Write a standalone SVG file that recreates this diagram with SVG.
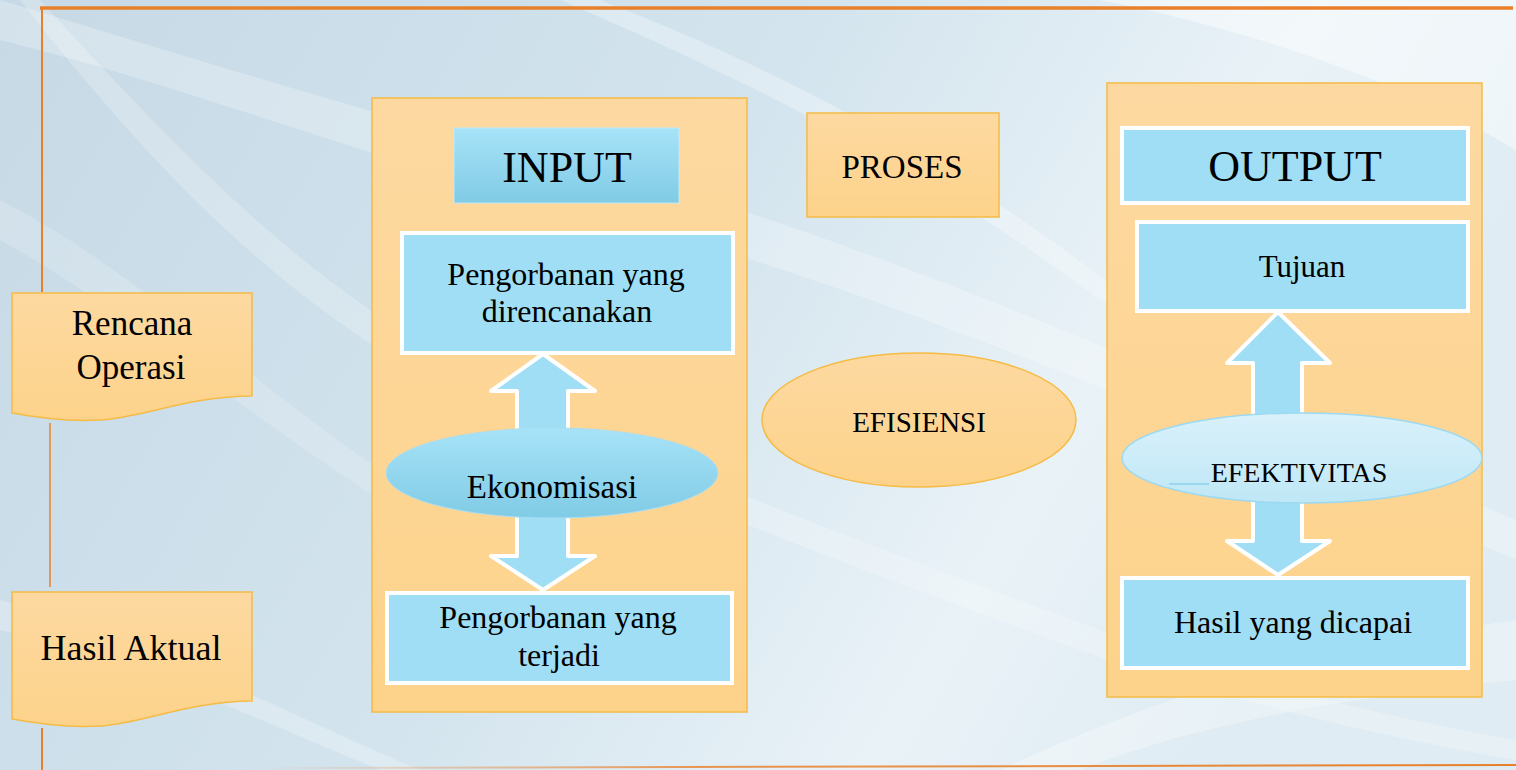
<svg xmlns="http://www.w3.org/2000/svg" width="1516" height="770" viewBox="0 0 1516 770">
<defs>
<linearGradient id="bg" x1="0" y1="0" x2="1" y2="0.3">
<stop offset="0" stop-color="#c6d9e5"/>
<stop offset="0.5" stop-color="#d3e4ee"/>
<stop offset="0.8" stop-color="#e9f2f7"/>
<stop offset="1" stop-color="#dfecf3"/>
</linearGradient>
<linearGradient id="org" x1="0" y1="0" x2="0" y2="1">
<stop offset="0" stop-color="#fdd9a1"/>
<stop offset="1" stop-color="#fdd38b"/>
</linearGradient>
<linearGradient id="blu" x1="0" y1="0" x2="0" y2="1">
<stop offset="0" stop-color="#a7e3f8"/>
<stop offset="1" stop-color="#80cbe5"/>
</linearGradient>
<linearGradient id="lblu" x1="0" y1="0" x2="0" y2="1">
<stop offset="0" stop-color="#d9f1fb"/>
<stop offset="1" stop-color="#bfe7f6"/>
</linearGradient>
<linearGradient id="botline" x1="0" y1="0" x2="1" y2="0">
<stop offset="0" stop-color="#e8802a" stop-opacity="0"/>
<stop offset="0.35" stop-color="#e8802a" stop-opacity="0.8"/>
<stop offset="1" stop-color="#e8802a"/>
</linearGradient>
<linearGradient id="rline" x1="0" y1="0" x2="0" y2="1">
<stop offset="0" stop-color="#e8802a"/>
<stop offset="1" stop-color="#e8802a" stop-opacity="0.2"/>
</linearGradient>
<style>
.orgbox{fill:url(#org);stroke:#f5bb45;stroke-width:1.5}
.bbox{fill:#9fdef5;stroke:#ffffff;stroke-width:4}
.arrow{fill:#9fdef5;stroke:#ffffff;stroke-width:4;stroke-linejoin:round}
.frame{stroke:#e8802a;fill:none}
.t{font-family:"Liberation Serif","Times New Roman",serif;fill:#000;text-anchor:middle}
.sw{fill:#ffffff}
</style>
</defs>

<g id="background">
<rect x="0" y="0" width="1516" height="770" fill="url(#bg)"/>
<path class="sw" opacity="0.25" d="M0,0 C200,60 420,130 600,170 C800,220 1000,300 1516,520 L1516,560 C1000,340 780,260 590,215 C400,170 200,90 0,40 Z"/>
<path class="sw" opacity="0.22" d="M40,0 C150,120 260,240 400,330 C560,430 800,520 1100,630 C1250,685 1400,720 1516,740 L1516,760 C1400,740 1240,705 1080,650 C780,540 540,450 380,350 C240,260 130,140 20,0 Z"/>
<path class="sw" opacity="0.3" d="M560,0 C700,60 900,150 1100,300 L1130,300 C930,140 730,50 600,0 Z"/>
<path class="sw" opacity="0.45" d="M1100,0 C1250,30 1400,80 1516,150 L1516,0 Z"/>
<path class="sw" opacity="0.25" d="M0,600 C150,640 300,720 420,770 L380,770 C260,720 130,660 0,630 Z"/>
<path class="sw" opacity="0.3" d="M1000,770 C1150,700 1300,650 1516,620 L1516,680 C1320,700 1180,730 1080,770 Z"/>
<path class="sw" opacity="0.18" d="M0,200 C120,260 250,380 380,470 L380,500 C240,410 110,300 0,240 Z"/>
</g>

<g id="connectors">
<line class="frame" x1="40" y1="8" x2="1513" y2="8" stroke-width="3.5"/>
<line class="frame" x1="42" y1="8" x2="42" y2="292" stroke-width="2"/>
<line x1="1512" y1="7" x2="1512" y2="160" stroke="url(#rline)" stroke-width="2"/>
<line class="frame" x1="50" y1="423" x2="50" y2="587" stroke-width="1.5"/>
<line class="frame" x1="42" y1="728" x2="42" y2="770" stroke-width="2"/>
<line x1="260" y1="768" x2="1516" y2="765" stroke="url(#botline)" stroke-width="2"/>
</g>

<g id="rencana">
<path class="orgbox" d="M12,293 H252 V396 C190,396 140,418 100,420 C60,422 30,416 12,413 Z"/>
<text class="t" x="132" y="335" font-size="35">Rencana</text>
<text class="t" x="131" y="379" font-size="35">Operasi</text>
</g>

<g id="hasil-aktual">
<path class="orgbox" d="M12,592 H252 V701 C190,701 140,724 100,726 C60,728 30,722 12,719 Z"/>
<text class="t" x="131" y="660" font-size="36">Hasil Aktual</text>
</g>

<g id="input">
<rect class="orgbox" x="372" y="98" width="375" height="614"/>
<rect x="454" y="128" width="225" height="75" fill="url(#blu)" stroke="#bfe9f8" stroke-width="1"/>
<text class="t" x="567" y="182" font-size="44">INPUT</text>
</g>

<g id="pengorbanan-rencana">
<rect class="bbox" x="402" y="233" width="331" height="120"/>
<text class="t" x="566" y="285" font-size="32">Pengorbanan yang</text>
<text class="t" x="567" y="322" font-size="32">direncanakan</text>
</g>

<g id="arrow-up-input">
<polygon class="arrow" points="543,354 595,391 568,391 568,440 517,440 517,391 491,391"/>
</g>
<g id="arrow-down-input">
<polygon class="arrow" points="517,505 568,505 568,556 595,556 543,590 491,556 517,556"/>
</g>

<g id="ekonomisasi">
<ellipse cx="552" cy="473" rx="166" ry="45" fill="url(#blu)" stroke="#a9def2" stroke-width="1"/>
<text class="t" x="552" y="498" font-size="33">Ekonomisasi</text>
</g>

<g id="pengorbanan-terjadi">
<rect class="bbox" x="387" y="593" width="345" height="90"/>
<text class="t" x="558" y="628" font-size="32">Pengorbanan yang</text>
<text class="t" x="559" y="666" font-size="32">terjadi</text>
</g>

<g id="proses">
<rect class="orgbox" x="807" y="113" width="192" height="104"/>
<text class="t" x="902" y="178" font-size="33">PROSES</text>
</g>

<g id="efisiensi">
<ellipse class="orgbox" cx="919" cy="420" rx="157" ry="67"/>
<text class="t" x="919" y="432" font-size="29">EFISIENSI</text>
</g>

<g id="output">
<rect class="orgbox" x="1107" y="83" width="375" height="614"/>
<rect class="bbox" x="1122" y="128" width="346" height="75"/>
<text class="t" x="1295" y="181" font-size="44">OUTPUT</text>
</g>

<g id="tujuan">
<rect class="bbox" x="1137" y="222" width="331" height="89"/>
<text class="t" x="1302" y="277" font-size="31">Tujuan</text>
</g>

<g id="arrow-up-output">
<polygon class="arrow" points="1278,312 1330,363 1302,363 1302,425 1253,425 1253,363 1227,363"/>
</g>
<g id="arrow-down-output">
<polygon class="arrow" points="1253,490 1302,490 1302,541 1330,541 1278,575 1227,541 1253,541"/>
</g>

<g id="efektivitas">
<ellipse cx="1302" cy="458" rx="180" ry="45" fill="url(#lblu)" stroke="#9dd9f0" stroke-width="1.5"/>
<line x1="1169" y1="484" x2="1209" y2="484" stroke="#9bd8ef" stroke-width="2"/>
<text class="t" x="1299" y="482" font-size="28">EFEKTIVITAS</text>
</g>

<g id="hasil-dicapai">
<rect class="bbox" x="1122" y="578" width="346" height="90"/>
<text class="t" x="1293" y="633" font-size="32">Hasil yang dicapai</text>
</g>
</svg>
